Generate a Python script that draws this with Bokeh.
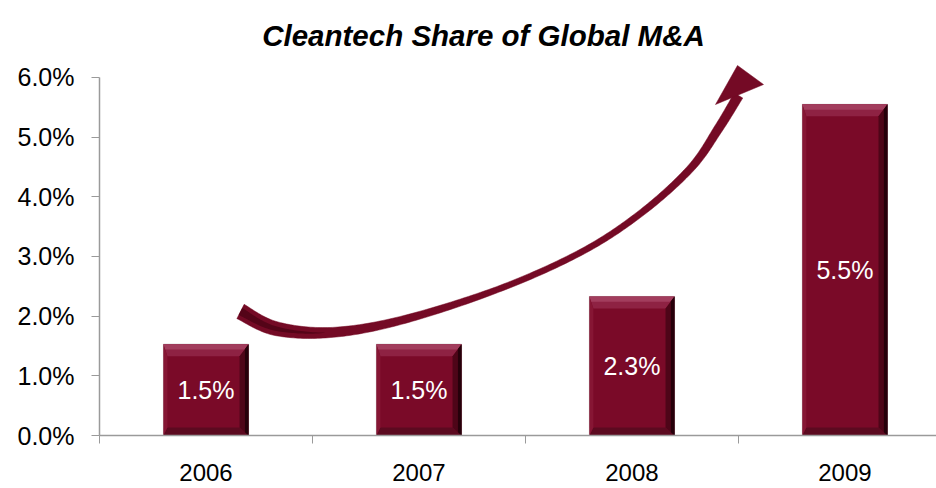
import numpy as np
from bokeh.plotting import figure
from bokeh.models import Range1d, FixedTicker, PrintfTickFormatter, Label
from bokeh.core.properties import value
from bokeh.embed import file_html
from bokeh.resources import INLINE

# ---------------- data ----------------
years = ["2006", "2007", "2008", "2009"]
shares = [1.53, 1.53, 2.33, 5.55]          # % of global M&A
share_labels = ["1.5%", "1.5%", "2.3%", "5.5%"]
y_ticks = [0, 1, 2, 3, 4, 5, 6]
title_text = "Cleantech Share of Global M&A"

# ---------------- layout ----------------
W, H = 936, 488
BL, BB = 99, 53
X_END, Y_END = 3.93, 7.29
FRAME_W, FRAME_H = W - BL, H - BB
PX_X, PX_Y = FRAME_W / X_END, FRAME_H / Y_END
FONT = "Liberation Sans"
BAR_W = 0.40

p = figure(width=W, height=H, output_backend="svg", toolbar_location=None,
           x_range=Range1d(0, X_END), y_range=Range1d(0, Y_END),
           min_border_left=BL, min_border_bottom=BB, min_border_top=0, min_border_right=0)
p.outline_line_color = None
p.xgrid.visible = False
p.ygrid.visible = False
p.background_fill_color = "white"
p.border_fill_color = "white"

centers = [i + 0.5 for i in range(len(years))]
bounds_x = [float(i) for i in range(len(years))]

# x axis: labels at centres, tick marks at category boundaries
xa = p.xaxis[0]
xa.ticker = FixedTicker(ticks=centers, minor_ticks=bounds_x)
xa.major_label_overrides = {c: y for c, y in zip(centers, years)}
xa.major_tick_out = 0
xa.major_tick_in = 0
xa.minor_tick_out = 8
xa.minor_tick_in = 0
xa.minor_tick_line_color = "#9a9a9a"
xa.axis_line_color = "#9a9a9a"
xa.axis_line_width = 1.5
xa.major_label_standoff = 20
xa.major_label_text_font = FONT
xa.major_label_text_font_size = "24px"
xa.major_label_text_color = "#000000"

ya = p.yaxis[0]
ya.ticker = FixedTicker(ticks=y_ticks)
ya.formatter = PrintfTickFormatter(format="%.1f%%")
ya.bounds = (0, 6)
ya.major_tick_out = 8
ya.major_tick_in = 0
ya.minor_tick_out = 0
ya.minor_tick_in = 0
ya.major_tick_line_color = "#9a9a9a"
ya.axis_line_color = "#9a9a9a"
ya.axis_line_width = 1.5
ya.major_label_standoff = 17
ya.major_label_text_font = FONT
ya.major_label_text_font_size = "25px"
ya.major_label_text_color = "#000000"

# ---------------- bevelled bars ----------------
bt, br, bb, bl = 12 / PX_Y, 9 / PX_X, 8 / PX_Y, 4 / PX_X
lefts = [c - BAR_W / 2 for c in centers]
rights = [c + BAR_W / 2 for c in centers]

p.quad(left=lefts, right=rights, bottom=0, top=shares,
       fill_color="#7a0a28", line_color="#b8b8b8", line_width=1, line_alpha=0.7)

def bevel(fn):
    xs, ys = [], []
    for L, R, T in zip(lefts, rights, shares):
        a, b = fn(L, R, T)
        xs.append(a)
        ys.append(b)
    return xs, ys

top_x, top_y = bevel(lambda L, R, T: ([L, R, R - br, L + bl], [T, T, T - bt, T - bt]))
top2_x, top2_y = bevel(lambda L, R, T: ([L, R, R - br * 0.45, L + bl * 0.45], [T, T, T - bt * 0.45, T - bt * 0.45]))
rgt_x, rgt_y = bevel(lambda L, R, T: ([R, R, R - br, R - br], [T, 0, bb, T - bt]))
rgt2_x, rgt2_y = bevel(lambda L, R, T: ([R, R, R - br * 0.4, R - br * 0.4], [T, 0, bb * 0.4, T - bt * 0.4]))
bot_x, bot_y = bevel(lambda L, R, T: ([L, R, R - br, L + bl], [0, 0, bb, bb]))
lft_x, lft_y = bevel(lambda L, R, T: ([L, L, L + bl, L + bl], [0, T, T - bt, bb]))

p.patches(top_x, top_y, fill_color="#8e2243", line_color=None)
p.patches(top2_x, top2_y, fill_color="#a23d5d", line_color=None)
p.patches(bot_x, bot_y, fill_color="#5c0a20", line_color=None)
p.patches(lft_x, lft_y, fill_color="#861634", line_color=None)
p.patches(rgt_x, rgt_y, fill_color="#4e0518", line_color=None)
p.patches(rgt2_x, rgt2_y, fill_color="#26000a", line_color=None)

p.text(x=centers, y=[v / 2 for v in shares], text=share_labels,
       text_color="white", text_font=value(FONT), text_font_size="25px",
       text_align="center", text_baseline="middle")

# ---------------- title ----------------
X0, Y0 = BL, FRAME_H   # page position of data origin
p.add_layout(Label(x=(483 - X0) / PX_X, y=(Y0 - 35) / PX_Y, text=title_text,
                   text_font=FONT, text_font_size="29.5px", text_font_style="bold italic",
                   text_color="#000000", text_align="center", text_baseline="alphabetic"))

# ---------------- decorative curved arrow ----------------
# centre line (page pixels) and its width
arrow_pts = [(240, 311), (275, 328), (330, 332), (400, 320), (497, 289), (580, 252),
             (640, 213), (690, 168), (718, 128), (738, 95)]
arrow_w = [16, 14, 10, 8, 6, 6, 6.5, 7.5, 9, 10]
head_pts = [(715, 104), (737, 65), (763, 84)]

def catmull(pts, vals, n=24):
    pts = np.asarray(pts, float)
    vals = np.asarray(vals, float)
    out, wv = [], []
    m = len(pts)
    for i in range(m - 1):
        p0 = pts[max(i - 1, 0)]; p1 = pts[i]; p2 = pts[i + 1]; p3 = pts[min(i + 2, m - 1)]
        for t in np.linspace(0, 1, n, endpoint=False):
            t2, t3 = t * t, t * t * t
            q = 0.5 * ((2 * p1) + (-p0 + p2) * t + (2 * p0 - 5 * p1 + 4 * p2 - p3) * t2
                       + (-p0 + 3 * p1 - 3 * p2 + p3) * t3)
            out.append(q)
            wv.append(vals[i] + (vals[i + 1] - vals[i]) * t)
    out.append(pts[-1]); wv.append(vals[-1])
    return np.array(out), np.array(wv)

c, w = catmull(arrow_pts, arrow_w)
d = np.gradient(c, axis=0)
d /= np.linalg.norm(d, axis=1)[:, None]
nrm = np.stack([-d[:, 1], d[:, 0]], axis=1)

def band(cc, ww, nn):
    left = cc + nn * (ww[:, None] / 2)
    right = cc - nn * (ww[:, None] / 2)
    poly = np.vstack([left, right[::-1]])
    return list((poly[:, 0] - X0) / PX_X), list((Y0 - poly[:, 1]) / PX_Y)

bx, by = band(c, w, nrm)
p.patch(bx, by, fill_color="#740a25", line_color="#740a25", line_width=0.5)

# darker inner stripe on the broad tail
k = int(len(c) * 0.22)
frac = np.linspace(1, 0, k)
ix, iy = band(c[:k], w[:k] * 0.5 * frac ** 0.6 + 0.01, nrm[:k])
p.patch(ix, iy, fill_color="#540418", line_color=None)

hx = [(x - X0) / PX_X for x, _ in head_pts]
hy = [(Y0 - y) / PX_Y for _, y in head_pts]
p.patch(hx, hy, fill_color="#740a25", line_color="#740a25", line_width=0.5)

open("out.html", "w").write(file_html(p, INLINE))
